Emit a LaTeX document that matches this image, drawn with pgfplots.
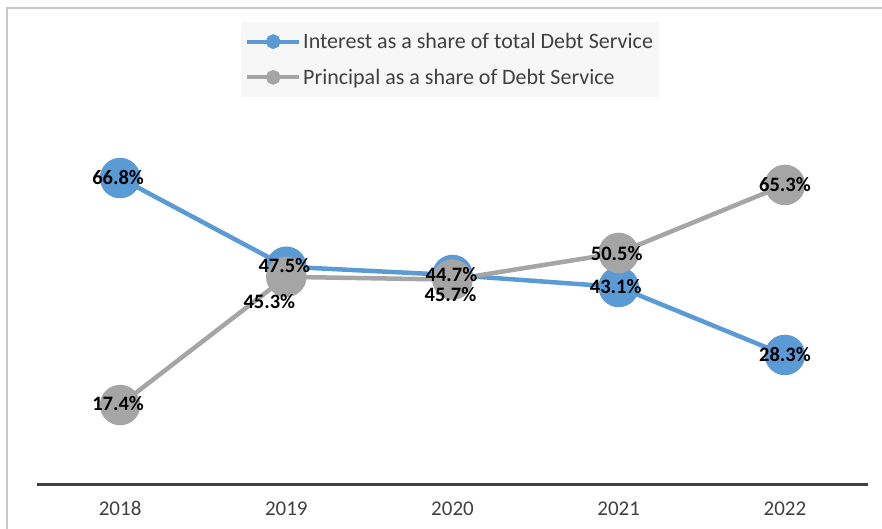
\documentclass[border=0pt]{standalone}
\usepackage{fontspec}
\setmainfont{Carlito}
\usepackage{pgfplots}
\pgfplotsset{compat=1.18}
\usepackage{pgfplotstable}

\definecolor{ser1}{HTML}{5B9BD5}
\definecolor{ser2}{HTML}{A5A5A5}
\definecolor{axisgray}{HTML}{404040}
\definecolor{ticktext}{HTML}{404040}
\definecolor{framegray}{HTML}{C8C8C8}
\definecolor{legendbg}{HTML}{F7F7F7}

\pgfplotstableread{
x y dx dy
0 66.8 -2 0
1 47.5 -2 1
2 45.7 -2 -20
3 43.1 -3 0
4 28.3 0 0
}\interest

\pgfplotstableread{
x y dx dy
0 17.4 -2 1
1 45.3 -17 -25
2 44.7 -1 5
3 50.5 -2 -1
4 65.3 0 0
}\principal

\begin{document}
\begin{tikzpicture}
\useasboundingbox (0,0) rectangle (882pt,529pt);
\draw[color=framegray, line width=2pt] (7pt,0pt) -- (7pt,521pt) -- (882pt,521pt);
\begin{axis}[
  at={(37pt,44pt)}, anchor=south west,
  scale only axis, width=831pt, height=459.5pt,
  xmin=-0.5, xmax=4.5, ymin=0, ymax=100,
  clip=false,
  axis y line=none,
  axis x line*=bottom,
  x axis line style={draw=axisgray, line width=3pt, -},
  xtick={0,1,2,3,4},
  xticklabels={2018,2019,2020,2021,2022},
  major tick length=0pt,
  xticklabel style={font=\fontsize{21}{24}\selectfont, text=ticktext, yshift=-13pt},
  legend style={at={(rel axis cs:0.2455,1.0076)}, anchor=north west,
    fill=legendbg, draw=none, font=\fontsize{22}{24}\selectfont,
    inner xsep=4pt, inner ysep=9pt, row sep=15pt, text=axisgray},
  legend cell align=left,
  legend image code/.code={
    \draw[line width=4pt] (0pt,0pt) -- (52pt,0pt);
    \fill (26pt,0pt) circle (5pt);
  },
]
\addplot[color=ser1, line width=4.5pt, mark=*, mark size=18pt, mark options={draw=none, fill=ser1}]
  table[x=x, y=y] {\interest};
\addlegendentry{Interest as a share of total Debt Service}
\addplot[color=ser2, line width=4.5pt, mark=*, mark size=18pt, mark options={draw=none, fill=ser2}]
  table[x=x, y=y] {\principal};
\addlegendentry{Principal as a share of Debt Service}

\addplot[forget plot, draw=none, mark=none,
  nodes near coords={\pgfmathprintnumber[assume math mode=true,fixed,precision=1,fixed zerofill]{\pgfplotspointmeta}\%},
  point meta=\thisrow{y},
  visualization depends on={\thisrow{dx}\as\dx},
  visualization depends on={\thisrow{dy}\as\dy},
  nodes near coords style={anchor=center, xshift=\dx pt, yshift=\dy pt,
    font=\bfseries\fontsize{20.5}{22}\selectfont, text=black, inner sep=0pt,
    text height=13pt, text depth=0pt}]
  table[x=x, y=y] {\interest};
\addplot[forget plot, draw=none, mark=none,
  nodes near coords={\pgfmathprintnumber[assume math mode=true,fixed,precision=1,fixed zerofill]{\pgfplotspointmeta}\%},
  point meta=\thisrow{y},
  visualization depends on={\thisrow{dx}\as\dx},
  visualization depends on={\thisrow{dy}\as\dy},
  nodes near coords style={anchor=center, xshift=\dx pt, yshift=\dy pt,
    font=\bfseries\fontsize{20.5}{22}\selectfont, text=black, inner sep=0pt,
    text height=13pt, text depth=0pt}]
  table[x=x, y=y] {\principal};
\end{axis}
\end{tikzpicture}
\end{document}
